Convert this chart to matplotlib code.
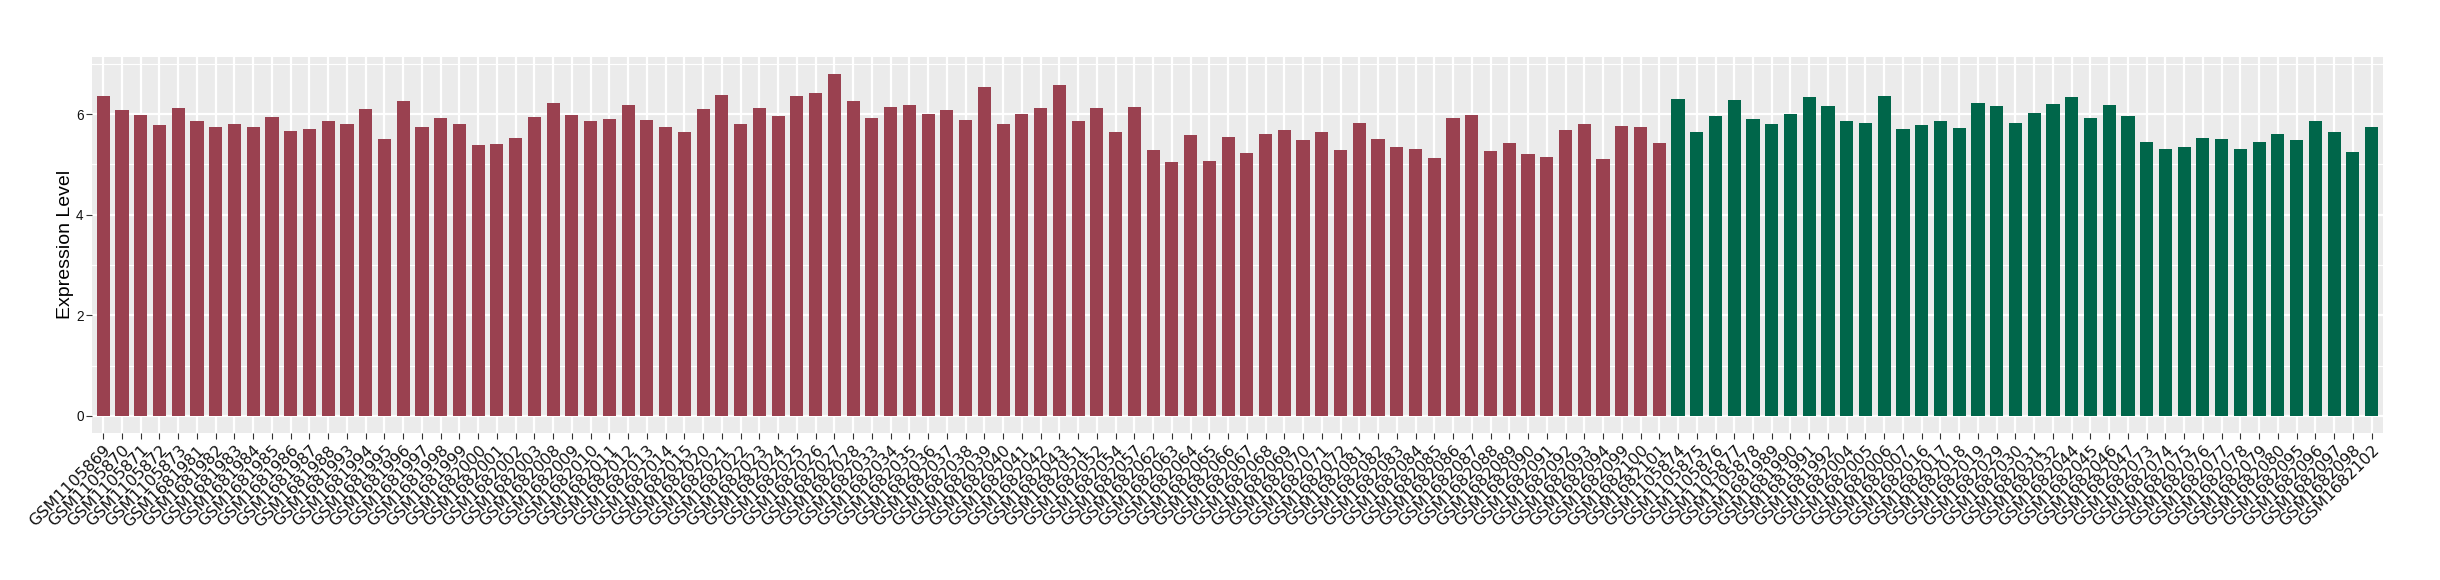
import numpy as np
import matplotlib
matplotlib.use('Agg')
from matplotlib import pyplot as plt
from matplotlib.ticker import MultipleLocator

# sample ids, disease group first (red), then control group (green)
red_samples = (
    ['GSM11058%d' % n for n in range(69, 74)]
    + ['GSM16819%d' % n for n in range(81, 89)]
    + ['GSM1681993', 'GSM1681994', 'GSM1681995', 'GSM1681996', 'GSM1681997', 'GSM1681998', 'GSM1681999',
       'GSM1682000', 'GSM1682001', 'GSM1682002', 'GSM1682003']
    + ['GSM16820%02d' % n for n in range(8, 16)]
    + ['GSM16820%d' % n for n in range(20, 29)]
    + ['GSM16820%d' % n for n in range(33, 44)]
    + ['GSM1682051', 'GSM1682052', 'GSM1682054', 'GSM1682057']
    + ['GSM16820%d' % n for n in range(62, 73)]
    + ['GSM16820%d' % n for n in range(81, 95)]
    + ['GSM1682099', 'GSM1682100', 'GSM1682101']
)
green_samples = (
    ['GSM11058%d' % n for n in range(74, 79)]
    + ['GSM1681989', 'GSM1681990', 'GSM1681991', 'GSM1681992']
    + ['GSM1682004', 'GSM1682005', 'GSM1682006', 'GSM1682007']
    + ['GSM1682016', 'GSM1682017', 'GSM1682018', 'GSM1682019']
    + ['GSM1682029', 'GSM1682030', 'GSM1682031', 'GSM1682032']
    + ['GSM1682044', 'GSM1682045', 'GSM1682046', 'GSM1682047']
    + ['GSM16820%d' % n for n in range(73, 81)]
    + ['GSM1682095', 'GSM1682096', 'GSM1682097', 'GSM1682098', 'GSM1682102']
)

red_values = [
    6.36, 6.08, 5.98, 5.78, 6.12, 5.86, 5.74, 5.80, 5.74, 5.94,
    5.66, 5.70, 5.86, 5.80, 6.10, 5.50, 6.26, 5.74, 5.92, 5.80,
    5.38, 5.40, 5.52, 5.94, 6.22, 5.98, 5.86, 5.90, 6.18, 5.88,
    5.74, 5.64, 6.10, 6.38, 5.80, 6.12, 5.96, 6.36, 6.42, 6.80,
    6.26, 5.92, 6.14, 6.18, 6.00, 6.08, 5.88, 6.54, 5.80, 6.00,
    6.12, 6.58, 5.86, 6.12, 5.64, 6.14, 5.28, 5.04, 5.58, 5.06,
    5.54, 5.22, 5.60, 5.68, 5.48, 5.64, 5.28, 5.82, 5.50, 5.34,
    5.30, 5.12, 5.92, 5.98, 5.26, 5.42, 5.20, 5.14, 5.68, 5.80,
    5.10, 5.76, 5.74, 5.42,
]
green_values = [
    6.30, 5.64, 5.96, 6.28, 5.90, 5.80, 6.00, 6.34, 6.16, 5.86,
    5.82, 6.36, 5.70, 5.78, 5.86, 5.72, 6.22, 6.16, 5.82, 6.02,
    6.20, 6.34, 5.92, 6.18, 5.96, 5.44, 5.30, 5.34, 5.52, 5.50,
    5.30, 5.44, 5.60, 5.48, 5.86, 5.64, 5.24, 5.74,
]

labels = red_samples + green_samples
values = red_values + green_values
colors = ['#9a4150'] * len(red_values) + ['#00664a'] * len(green_values)

fig = plt.figure(figsize=(24.4, 5.8), dpi=100)
ax = fig.add_axes([0.0377, 0.2534, 0.9389, 0.6488])
ax.set_facecolor('#ebebeb')

x = np.arange(len(values))
ax.bar(x, values, width=0.7, color=colors, zorder=3)

ax.set_xlim(-0.6, len(values) - 1 + 0.6)
vmax = max(values)
ax.set_ylim(-0.05 * vmax, vmax * 1.05)
ax.yaxis.set_major_locator(MultipleLocator(2))
ax.yaxis.set_minor_locator(MultipleLocator(1))

ax.grid(which='major', color='white', linewidth=1.6, zorder=0)
ax.grid(which='minor', axis='y', color='white', linewidth=0.8, zorder=0)
ax.set_axisbelow(True)
for s in ax.spines.values():
    s.set_visible(False)

ax.set_xticks(x)
ax.set_xticklabels(labels, rotation=45, ha='right', rotation_mode='anchor',
                   fontsize=11.5, color='#111111', family='DejaVu Sans')
ax.tick_params(axis='x', length=4, width=0.8, color='#333333', pad=3)
ax.tick_params(axis='y', which='major', length=4, width=0.8, color='#333333', pad=2,
               labelsize=9.8, labelcolor='#111111')
ax.tick_params(axis='y', which='minor', length=0)
for t in ax.get_yticklabels():
    t.set_family('Liberation Sans')

ax.set_ylabel('Expression Level', fontsize=14, family='Liberation Sans')
ax.yaxis.set_label_coords(-0.0079, 0.5)

fig.savefig('out.png', dpi=100)
